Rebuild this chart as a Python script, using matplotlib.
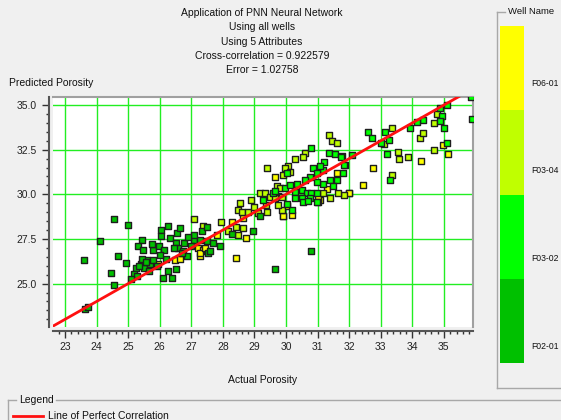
import matplotlib
matplotlib.use('Agg')
import matplotlib.pyplot as plt
from matplotlib.lines import Line2D
from matplotlib.ticker import MultipleLocator

plt.rcParams['font.family'] = ['Liberation Sans', 'DejaVu Sans']

# actual vs predicted porosity, one list pair per well
f02_x = [24.55, 25.0, 24.1, 23.6, 24.68, 24.46, 24.55, 24.93, 23.63, 23.73,
         25.44, 25.3, 25.47, 25.78, 26.04, 26.26, 26.04, 25.97, 26.13, 26.32,
         26.54, 26.64, 26.51, 26.57, 26.77, 26.45, 26.73, 25.25, 25.2, 25.4,
         25.5, 25.6, 25.7, 25.8, 25.44, 25.28, 25.1, 26.26, 26.51, 26.1,
         26.38, 26.86, 26.7, 27.08, 27.34, 27.5, 27.27, 27.5, 27.53, 27.1,
         27.7, 27.9, 27.6, 28.28, 28.95, 29.17, 29.65, 30.8, 25.35, 25.55,
         25.65, 25.9, 26.2, 26.0, 25.75, 26.9, 27.0]
f02_y = [28.6, 28.3, 27.36, 26.35, 26.57, 25.6, 24.94, 26.18, 23.6, 23.7,
         27.42, 27.1, 26.9, 26.9, 28.03, 28.2, 27.64, 27.13, 26.9, 27.58,
         27.86, 28.1, 27.25, 27.0, 27.3, 26.97, 26.85, 25.9, 25.56, 26.12,
         25.9, 26.35, 26.12, 26.3, 26.4, 25.4, 25.28, 25.73, 25.84, 25.33,
         25.33, 26.57, 26.69, 27.47, 27.92, 28.15, 27.42, 27.4, 26.74, 27.75,
         27.3, 27.08, 26.85, 27.8, 27.92, 28.76, 25.84, 26.8, 26.0, 26.2,
         25.7, 26.0, 26.4, 26.6, 27.2, 27.6, 27.1]

f0302_x = [29.27, 29.58, 29.96, 30.03, 30.78, 31.35, 31.54, 31.77, 32.1, 31.2,
           31.86, 31.16, 30.85, 31.07, 30.97, 31.8, 31.6, 31.38, 31.16, 30.97,
           30.75, 30.6, 30.34, 30.12, 29.65, 30.28, 30.5, 30.66, 30.8, 30.97,
           30.75, 30.5, 30.28, 30.53, 30.7, 30.97, 30.18, 30.03, 31.48,
           35.85, 35.9, 35.1, 34.87, 34.93, 34.87, 35.0, 35.09, 34.33, 34.14,
           33.92, 32.59, 32.72, 33.13, 33.0, 33.25, 31.74, 31.83, 33.2, 33.3]
f0302_y = [29.66, 30.1, 30.34, 31.18, 32.58, 32.3, 32.25, 32.13, 32.2, 31.8,
           31.63, 31.35, 31.5, 31.57, 31.18, 31.18, 30.8, 30.8, 30.6, 30.67,
           30.96, 30.8, 30.6, 30.5, 30.17, 30.12, 30.22, 30.1, 30.1, 30.05,
           29.78, 29.78, 29.78, 29.55, 29.6, 29.55, 29.15, 29.44, 30.45,
           35.45, 34.2, 35.0, 34.83, 34.4, 34.1, 33.7, 32.9, 34.16, 34.05,
           33.7, 33.48, 33.15, 33.48, 32.9, 33.03, 32.08, 31.63, 32.25, 30.8]

f0304_x = [27.08, 27.93, 27.37, 28.54, 28.47, 28.6, 28.8, 28.9, 29.0, 29.1,
           28.43, 28.63, 28.47, 28.16, 29.17, 29.33, 29.7, 29.8, 29.4, 29.87,
           29.4, 29.36, 29.5, 29.74, 31.35, 31.45, 31.6, 30.6, 30.53, 30.28,
           30.06, 29.96, 30.12, 29.9, 31.83, 31.64, 31.38, 31.16, 29.87, 29.65,
           29.74, 31.0, 33.35, 33.1, 34.77, 34.68, 34.23, 34.33, 33.54, 33.57,
           33.85, 34.7, 33.35]
f0304_y = [28.6, 28.43, 28.2, 29.5, 29.15, 29.0, 29.0, 29.66, 29.3, 28.93,
           28.15, 28.1, 27.7, 27.97, 30.1, 30.05, 30.45, 30.34, 31.46, 29.15,
           29.0, 29.38, 29.83, 29.9, 33.3, 32.98, 32.87, 32.3, 32.08, 31.97,
           31.57, 31.5, 31.24, 31.07, 29.94, 30.05, 29.78, 30.05, 29.83, 29.78,
           29.38, 29.55, 33.7, 32.8, 34.5, 34.0, 33.15, 33.43, 32.36, 32.0,
           32.08, 32.5, 31.1]

f06_x = [25.94, 26.48, 26.64, 27.2, 27.37, 27.27, 27.5, 28.4, 28.72, 27.8,
         27.27, 27.43, 28.63, 28.3, 29.65, 29.9, 32.0, 31.3, 31.6, 31.07,
         30.03, 30.18, 29.9, 34.96, 35.12, 34.27, 32.75, 32.43, 31.98, 31.0]
f06_y = [26.1, 26.3, 26.4, 27.0, 26.9, 26.57, 26.85, 26.46, 27.53, 27.7,
         26.7, 27.0, 28.65, 28.43, 30.96, 28.8, 30.05, 30.3, 31.18, 29.66,
         29.33, 28.82, 28.76, 32.75, 32.25, 31.86, 31.5, 30.5, 30.05, 29.78]

wells = ['F06-01', 'F03-04', 'F03-02', 'F02-01']
well_colors = ['#ffff00', '#c0ff00', '#00ff00', '#00c000']

title_lines = ['Application of PNN Neural Network', 'Using all wells',
               'Using 5 Attributes', 'Cross-correlation = 0.922579',
               'Error = 1.02758']

xlim = (22.62, 35.92)
ylim = (22.57, 35.47)
fs = 7.5

fig = plt.figure(figsize=(5.61, 4.2), dpi=100, facecolor='#f0f0f0')
ax = fig.add_axes([0.0945, 0.2214, 0.7485, 0.5484])
ax.set_facecolor('white')

series = [(f06_x, f06_y), (f0304_x, f0304_y), (f0302_x, f0302_y), (f02_x, f02_y)]
# draw yellow first so the green wells sit on top
for (xs, ys), c in zip(series, well_colors):
    ax.scatter(xs, ys, s=22, marker='s', c=c, edgecolors='#1e1e1e',
               linewidths=1.0, zorder=3)

ax.plot(xlim, xlim, color='#ff1010', lw=2, zorder=4,
        label='Line of Perfect Correlation')

ax.set_xlim(*xlim)
ax.set_ylim(*ylim)
ax.xaxis.set_major_locator(MultipleLocator(1))
ax.xaxis.set_minor_locator(MultipleLocator(0.2))
ax.yaxis.set_major_locator(MultipleLocator(2.5))
ax.yaxis.set_minor_locator(MultipleLocator(0.5))
ax.yaxis.set_major_formatter(plt.FormatStrFormatter('%.1f'))
ax.grid(True, which='major', color='#22ee22', lw=1)
ax.set_axisbelow(True)

ax.tick_params(which='both', direction='out', colors='#333333',
               labelsize=fs, labelcolor='#222222')
ax.tick_params(which='major', length=5, width=1)
ax.tick_params(which='minor', length=2.5, width=1)
ax.tick_params(axis='x', pad=3)
for side in ['left', 'bottom']:
    ax.spines[side].set_position(('outward', 3))
    ax.spines[side].set_color('#555555')
    ax.spines[side].set_linewidth(1.5)
for side in ['top', 'right']:
    ax.spines[side].set_color('#a0a0a0')
    ax.spines[side].set_linewidth(1.5)

# title block
for i, line in enumerate(title_lines):
    fig.text(0.467, 1 - (13 + 14.3 * i) / 420, line, ha='center', va='center',
             fontsize=fs, color='#111111')

fig.text(9 / 561, 1 - 83 / 420, 'Predicted Porosity', ha='left', va='center',
         fontsize=fs, color='#111111')
fig.text(263 / 561, 1 - 380 / 420, 'Actual Porosity', ha='center', va='center',
         fontsize=fs, color='#111111')

# well name colour key
kax = fig.add_axes([500 / 561, 1 - 363 / 420, 24 / 561, 337 / 420])
kax.bar([0] * 4, [1] * 4, bottom=[3, 2, 1, 0], color=well_colors, width=1,
        align='edge')
kax.set_xlim(0, 1)
kax.set_ylim(0, 4)
kax.axis('off')
for i, name in enumerate(wells):
    fig.text(531 / 561, 1 - (83 + 87.7 * i) / 420, name, ha='left',
             va='center', fontsize=6.2, color='#111111')

frame = '#a8a8a8'
fig.add_artist(Line2D([497 / 561, 497 / 561], [1 - 12 / 420, 1 - 388 / 420],
                      color=frame, lw=1))
fig.add_artist(Line2D([497 / 561, 1], [1 - 388 / 420, 1 - 388 / 420],
                      color=frame, lw=1))
fig.add_artist(Line2D([497 / 561, 505 / 561], [1 - 12 / 420, 1 - 12 / 420],
                      color=frame, lw=1))
fig.text(508 / 561, 1 - 12 / 420, 'Well Name', ha='left', va='center',
         fontsize=6.8, color='#111111')

# legend box along the bottom
fig.add_artist(Line2D([8 / 561, 8 / 561], [1 - 400 / 420, 0], color=frame, lw=1))
fig.add_artist(Line2D([8 / 561, 16 / 561], [1 - 400 / 420, 1 - 400 / 420],
                      color=frame, lw=1))
fig.add_artist(Line2D([56 / 561, 1], [1 - 400 / 420, 1 - 400 / 420],
                      color=frame, lw=1))
fig.text(19 / 561, 1 - 400 / 420, 'Legend', ha='left', va='center',
         fontsize=fs, color='#111111')
fig.add_artist(Line2D([13 / 561, 43 / 561], [1 - 416 / 420, 1 - 416 / 420],
                      color='#ff1010', lw=2))
fig.text(48 / 561, 1 - 416 / 420, 'Line of Perfect Correlation', ha='left',
         va='center', fontsize=fs, color='#111111')

fig.savefig('out.png', dpi=100, facecolor=fig.get_facecolor())
